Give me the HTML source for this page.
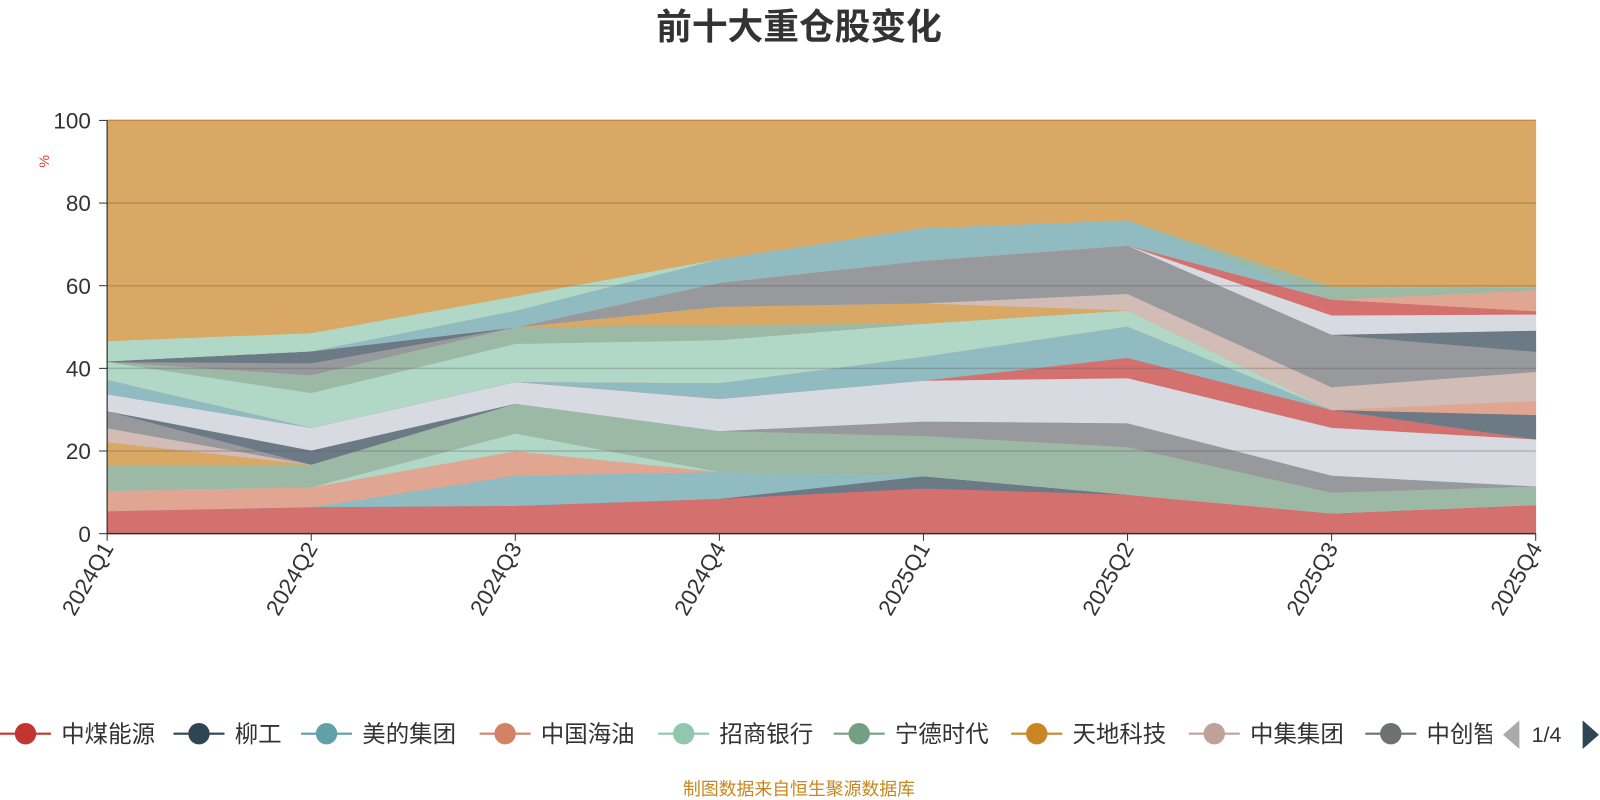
<!DOCTYPE html>
<html><head><meta charset="utf-8"><style>
html,body{margin:0;padding:0;background:#fff;}
body{width:1600px;height:800px;overflow:hidden;font-family:"Liberation Sans","Noto Sans CJK SC",sans-serif;}
</style></head><body>
<svg width="1600" height="800" xmlns="http://www.w3.org/2000/svg" style="position:absolute;left:0;top:0">
<g id="root" transform="scale(1.0204)">
<text x="783" y="38" text-anchor="middle" font-size="35" font-weight="bold" fill="#333" font-family="Liberation Sans,Noto Sans CJK SC,sans-serif">前十大重仓股变化</text>
<g id="areas"></g>
<g id="grid"></g>
<text x="48" y="158" font-size="14" fill="#e33" transform="rotate(-90 48 158)" text-anchor="middle">%</text>
<g id="legend" font-size="23" fill="#333" font-family="Liberation Sans,Noto Sans CJK SC,sans-serif"></g>
<text x="783" y="779" text-anchor="middle" font-size="17.5" fill="#c8861e" font-family="Liberation Sans,Noto Sans CJK SC,sans-serif">制图数据来自恒生聚源数据库</text>
</g>
</svg>
<script>
var X=[105,305,505,705,905,1105,1305,1505];
function Y(v){return 523-v*4.05;}
var bands=[
["#d4706d",[5.5,6.5,6.8,8.5,11,9.5,5,7]],
["#6c7a86",[5.5,6.5,6.8,8.5,14,9.5,5,7]],
["#90bbc0",[5.5,6.5,14.1,15,14,9.5,5,7]],
["#e0a691",[10.4,11.3,20,15,14,9.5,5,7]],
["#b1d7c6",[10.4,11.3,24.3,15,14,9.5,5,7]],
["#9cb9a6",[16.5,16.8,31.5,24.9,23.7,21,10,11.5]],
["#d8a864",[22.2,16.8,31.5,24.9,23.7,21,10,11.5]],
["#d1bcb6",[25.6,16.8,31.5,24.9,23.7,21,10,11.5]],
["#98999d",[29.7,16.8,31.5,24.9,27.2,26.8,14.1,11.5]],
["#6c7a86",[29.7,20.2,31.5,24.9,27.2,26.8,14.1,11.5]],
["#d7dbe1",[33.8,25.7,36.8,32.7,37.1,37.7,25.7,22.9]],
["#d4706d",[33.8,25.7,36.8,32.7,37.1,42.6,30,22.9]],
["#90bbc0",[37.3,25.7,36.8,36.5,42.9,50.2,30,22.9]],
["#6c7a86",[37.3,25.7,36.8,36.5,42.9,50.2,30,28.8]],
["#e0a691",[37.3,25.7,36.8,36.5,42.9,50.2,30,32.2]],
["#b1d7c6",[41.6,34.1,46,46.9,50.9,54.1,30,32.2]],
["#9cb9a6",[41.6,38.4,50,50.6,50.9,54.1,30,32.2]],
["#d8a864",[41.6,38.4,50,55,55.8,54.1,30,32.2]],
["#d1bcb6",[41.6,38.4,50,55,55.8,58.1,35.5,39.2]],
["#98999d",[41.6,41.3,50,60.8,66.1,69.8,48.2,44.1]],
["#6c7a86",[41.8,44.2,50,60.8,66.1,69.8,48.2,49.2]],
["#d7dbe1",[41.8,44.2,50,60.8,66.1,69.8,52.9,53.1]],
["#d4706d",[41.8,44.2,50,60.8,66.1,69.8,56.7,53.9]],
["#e0a691",[41.8,44.2,50,60.8,66.1,69.8,56.7,59]],
["#90bbc0",[41.8,44.2,54,66.5,74,75.9,56.7,59]],
["#9cb9a6",[41.8,44.2,54,66.5,74,75.9,59.8,59.6]],
["#b1d7c6",[46.7,48.6,57.5,66.5,74,75.9,59.8,59.6]],
["#d8a864",[100,100,100,100,100,100,100,100]]
];
var NS="http://www.w3.org/2000/svg";
function el(t,a,p){var e=document.createElementNS(NS,t);for(var k in a)e.setAttribute(k,a[k]);p.appendChild(e);return e;}
var A=document.getElementById("areas");
var prev=[0,0,0,0,0,0,0,0];
for(var i=0;i<bands.length;i++){
 var hi=bands[i][1],pts=[];
 for(var j=0;j<8;j++)pts.push(X[j]+","+Y(hi[j]).toFixed(1));
 for(var j=7;j>=0;j--)pts.push(X[j]+","+Y(prev[j]).toFixed(1));
 el("polygon",{points:pts.join(" "),fill:bands[i][0],stroke:bands[i][0],"stroke-width":"0.8"},A);
 prev=hi;
}
el("line",{x1:105,y1:118,x2:1505,y2:118,stroke:"#c98c3e","stroke-width":"1.5"},A);
var G=document.getElementById("grid");
[20,40,60,80].forEach(function(v){el("line",{x1:105,y1:Y(v),x2:1505,y2:Y(v),stroke:"rgba(90,90,90,0.3)","stroke-width":"1.5"},G);});
el("line",{x1:105,y1:118,x2:105,y2:523,stroke:"#333","stroke-width":"1.2"},G);
el("line",{x1:105,y1:523,x2:1505,y2:523,stroke:"#333","stroke-width":"1.5"},G);
[0,20,40,60,80,100].forEach(function(v){
 el("line",{x1:97,y1:Y(v),x2:105,y2:Y(v),stroke:"#333"},G);
 var t=el("text",{x:89,y:Y(v)+8,"text-anchor":"end","font-size":"22",fill:"#333"},G);t.textContent=v;
});
var labs=["2024Q1","2024Q2","2024Q3","2024Q4","2025Q1","2025Q2","2025Q3","2025Q4"];
labs.forEach(function(l,j){
 el("line",{x1:X[j],y1:523,x2:X[j],y2:530,stroke:"#333"},G);
 var t=el("text",{x:X[j]+7,y:537,"text-anchor":"end","font-size":"22",fill:"#333",transform:"rotate(-60 "+(X[j]+7)+" 537)"},G);t.textContent=l;
});
var L=document.getElementById("legend");
var items=[["中煤能源","#c23531",5],["柳工","#2f4554",175],["美的集团","#61a0a8",300],["中国海油","#d48265",475],["招商银行","#91c7ae",650],["宁德时代","#749f83",822],["天地科技","#ca8622",996],["中集集团","#bda29a",1170],["中创智领","#6e7074",1343]];
var clip=el("clipPath",{id:"lc"},L);el("rect",{x:0,y:690,width:1462,height:60},clip);
var LG=el("g",{"clip-path":"url(#lc)"},L);
items.forEach(function(it){
 var x=it[2];
 el("line",{x1:x-5,y1:719,x2:x+45,y2:719,stroke:it[1],"stroke-width":"2"},LG);
 el("circle",{cx:x+20,cy:719,r:10.5,fill:it[1]},LG);
 var t=el("text",{x:x+55,y:727},LG);t.textContent=it[0];
});
el("polygon",{points:"1489,706 1489,734 1473,720",fill:"#aaa"},L);
var t=el("text",{x:1501,y:727,"font-size":"21"},L);t.textContent="1/4";
el("polygon",{points:"1551,706 1551,734 1567,720",fill:"#2f4554"},L);
</script>
</body></html>
